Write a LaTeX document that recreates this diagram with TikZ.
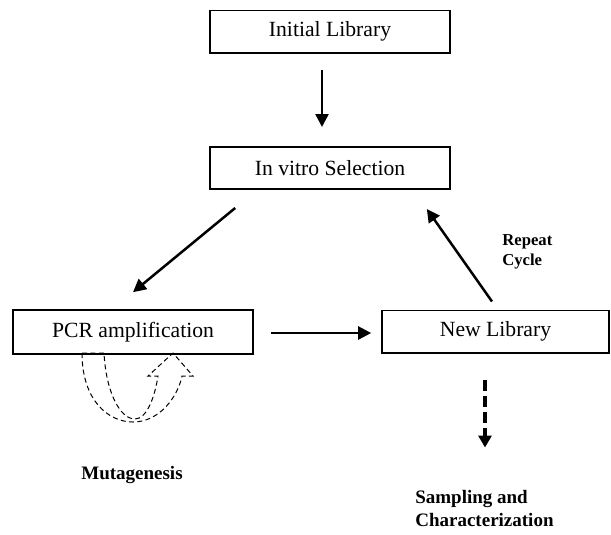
\documentclass[tikz,border=0pt]{standalone}
\usepackage{fontspec}
\setmainfont{Liberation Serif}
\usetikzlibrary{positioning,arrows.meta,calc}
\tikzset{
  stage/.style={rectangle, draw=black, line width=1pt, fill=white,
                minimum height=25.4pt, minimum width=144pt, align=center,
                inner sep=0pt, font=\fontsize{13}{15}\selectfont},
  flow/.style={-{Triangle[length=7.8pt, width=7.8pt]}, draw=black, line width=1.5pt},
  flowd/.style={-{Triangle[length=7.2pt, width=7.8pt]}, draw=black,
                line width=2.4pt, dash pattern=on 6.6pt off 3pt},
  loopd/.style={draw=black, line width=0.6pt, dash pattern=on 3pt off 2pt},
  tag/.style={font=\fontsize{11.4}{13.8}\selectfont\bfseries, align=left, inner sep=0pt},
  tagsm/.style={font=\fontsize{10}{12}\selectfont\bfseries, align=left, inner sep=0pt},
}
\begin{document}
\begin{tikzpicture}[x=0.6pt, y=-0.6pt]
  \useasboundingbox (0,0) rectangle (611,534);

  % --- the four library stages ---------------------------------------------
  \node[stage] (init) at (330,31.5) {Initial Library};
  \node[stage] (sel) at (330,168) {In vitro Selection};
  \node[stage, minimum height=26.4pt] (pcr) at (133,332) {PCR amplification};
  \node[stage, minimum width=136.2pt] (newlib) at (495.5,331.5) {New Library};

  % --- labels ------------------------------------------------------------
  \node[tagsm, anchor=west] (rep) at (502,252) {Repeat\\Cycle};
  \node[tag] (mut) at (132,475) {Mutagenesis};
  \node[tag, anchor=north west] (samp) at (415,490) {Sampling and\\Characterization};

  % --- main cycle ----------------------------------------------------------
  \draw[flow] ($(init.south)+(-8,16)$) -- ($(sel.north)+(-8,-19)$);
  \draw[flow] ($(sel.south west)+(26,18)$) -- ($(pcr.north)+(0,-17)$);
  \draw[flow] ($(pcr.east)+(17,1)$) -- ($(newlib.west)+(-10,1.5)$);
  \draw[flow] ($(newlib.north)+(-3.5,-8)$) -- ($(sel.south east)+(-24,19)$);
  \draw[flowd] ($(newlib.south)+(-10.5,26)$) -- ($(newlib.south)+(-10.5,94)$);

  % --- mutagenesis loop under the PCR box ----------------------------------
  \draw[loopd] (82,353) .. controls (82,400) and (108,422) .. (133,422)
    .. controls (160,422) and (178,396) .. (182,376)
    -- (193,376) -- (173,353) -- (148,376) -- (158,376)
    .. controls (155,396) and (147,419) .. (135,419)
    .. controls (120,419) and (106,392) .. (104,353) -- cycle;
\end{tikzpicture}
\end{document}
